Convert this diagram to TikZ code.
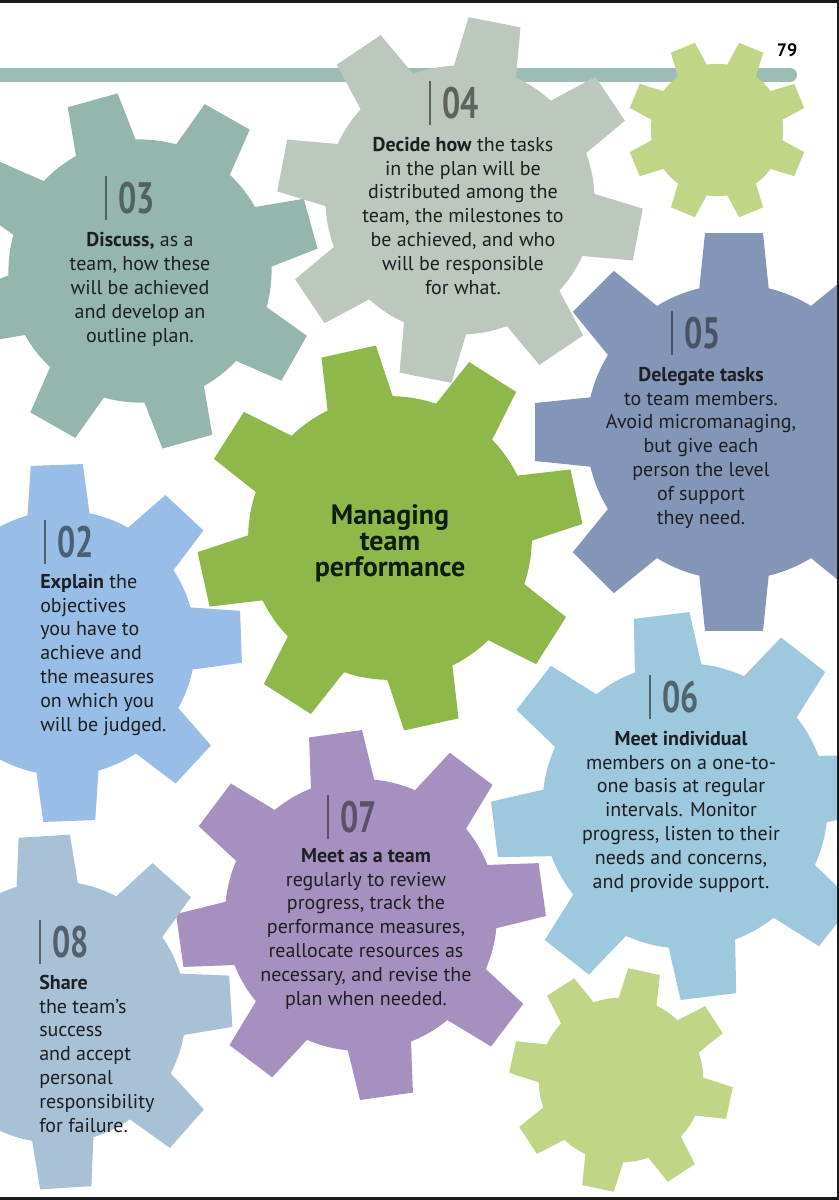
\documentclass[tikz,border=0pt]{standalone}
\usepackage{fontspec}
\setmainfont{PT Sans}
\usepackage{graphicx}
\usepackage{xcolor}
\usetikzlibrary{positioning}

\definecolor{barteal}{HTML}{9CBDB6}
\definecolor{gearthree}{HTML}{95B6AC}
\definecolor{gearfour}{HTML}{BCC7BD}
\definecolor{gearlime}{HTML}{C0D585}
\definecolor{gearfive}{HTML}{8496B8}
\definecolor{gearmain}{HTML}{8FB84B}
\definecolor{geartwo}{HTML}{98BDE6}
\definecolor{gearsix}{HTML}{9DC8DD}
\definecolor{gearseven}{HTML}{A690C0}
\definecolor{geareight}{HTML}{A9C1D6}
\definecolor{inktext}{HTML}{1D1F22}
\definecolor{inktitle}{HTML}{0E1E0E}
\definecolor{framegray}{HTML}{1A1A1A}

% gear: x, y (px), outer radius, phase of first tooth, colour
\newcommand{\gear}[5]{%
  \begin{scope}[shift={(#1,#2)}]
    \fill[#5] (0,0) circle[radius=0.735*#3];
    \foreach \k in {0,...,7}
      \fill[#5, rotate=#4+45*\k] (-14.6:{0.7*#3}) -- (-8.3:#3) -- (8.3:#3) -- (14.6:{0.7*#3}) -- cycle;
  \end{scope}}

% step number with its little rule: name, x, y (baseline), colour, digits
\newcommand{\stepnumber}[5]{%
  \node[stepnum, text=#4] (#1) at (#2,#3) {\scalebox{0.73}[1]{#5}};
  \draw[numbar, #4] ([xshift=-9pt, yshift=3.75pt]#1.north west) -- ([xshift=-9pt, yshift=-5.25pt]#1.base west);}

\tikzset{
  steptext/.style={font=\fontsize{15}{17.85}\selectfont, text=inktext, inner sep=0pt, align=center, anchor=base},
  steptextleft/.style={steptext, align=left, anchor=base west},
  stepnum/.style={font=\fontsize{33}{33}\bfseries\selectfont, inner sep=0pt, anchor=base west},
  numbar/.style={line width=1.5pt},
  titletext/.style={font=\fontsize{21}{19.5}\bfseries\selectfont, text=inktitle, inner sep=0pt, align=center, anchor=base}
}

\begin{document}
\begin{tikzpicture}[x=0.75pt, y=-0.75pt]
    \useasboundingbox (0,0) rectangle (839,1200);
    \fill[white] (0,0) rectangle (839,1200);

    \begin{scope}
      \clip (0,0) rectangle (837,1197);
      \draw[barteal, line width=10.5pt, line cap=round] (-20,75) -- (790,75);

      \gear{140}{271}{179}{15.5}{gearthree}
      \gear{460}{200}{183}{34}{gearfour}
      \gear{717}{130}{90}{22.5}{gearlime}
      \gear{734}{432}{201}{0}{gearfive}
      \gear{390}{538}{193}{12.5}{gearmain}
      \gear{63}{643}{180}{2}{geartwo}
      \gear{685}{806}{194}{7}{gearsix}
      \gear{361}{915}{185}{8}{gearseven}
      \gear{55}{1012}{178}{3.5}{geareight}
      \gear{621}{1080}{112}{33}{gearlime}
    \end{scope}

    \node[font=\fontsize{13.5}{13.5}\bfseries\selectfont, inner sep=0pt] (pagenum) at (787,50) {79};

    % text nodes sit on the baseline of their last line
    \node[titletext] (title) at (390,576) {Managing\\team\\performance};

    \stepnumber{n03}{118}{213}{gearthree!55!black}{03}
    \node[steptext] (t03) at (140,342) {\textbf{Discuss,} as a\\team, how these\\will be achieved\\and develop an\\outline plan.};

    \stepnumber{n04}{442}{118}{gearfour!50!black}{04}
    \node[steptext] (t04) at (463,294) {\textbf{Decide how} the tasks\\in the plan will be\\distributed among the\\team, the milestones to\\be achieved, and who\\will be responsible\\for what.};

    \stepnumber{n05}{684}{348}{gearfive!55!black}{05}
    \node[steptext] (t05) at (701,524) {\textbf{Delegate tasks}\\to team members.\\Avoid micromanaging,\\but give each\\person the level\\of support\\they need.};

    \stepnumber{n02}{57}{557}{geartwo!50!black}{02}
    \node[steptextleft] (t02) at (40,731) {\textbf{Explain} the\\objectives\\you have to\\achieve and\\the measures\\on which you\\will be judged.};

    \stepnumber{n06}{662}{712}{gearsix!50!black}{06}
    \node[steptext] (t06) at (681,888) {\textbf{Meet individual}\\members on a one-to-\\one basis at regular\\intervals. Monitor\\progress, listen to their\\needs and concerns,\\and provide support.};

    \stepnumber{n07}{340}{832}{gearseven!55!black}{07}
    \node[steptext] (t07) at (366,1005) {\textbf{Meet as a team}\\regularly to review\\progress, track the\\performance measures,\\reallocate resources as\\necessary, and revise the\\plan when needed.};

    \stepnumber{n08}{52}{957}{geareight!50!black}{08}
    \node[steptextleft] (t08) at (39,1132) {\textbf{Share}\\the team’s\\success\\and accept\\personal\\responsibility\\for failure.};

    % frame
    \fill[framegray] (0,0) rectangle (839,3);
    \fill[framegray] (837,0) rectangle (839,1200);
    \fill[framegray] (0,1197) rectangle (839,1200);
\end{tikzpicture}
\end{document}
